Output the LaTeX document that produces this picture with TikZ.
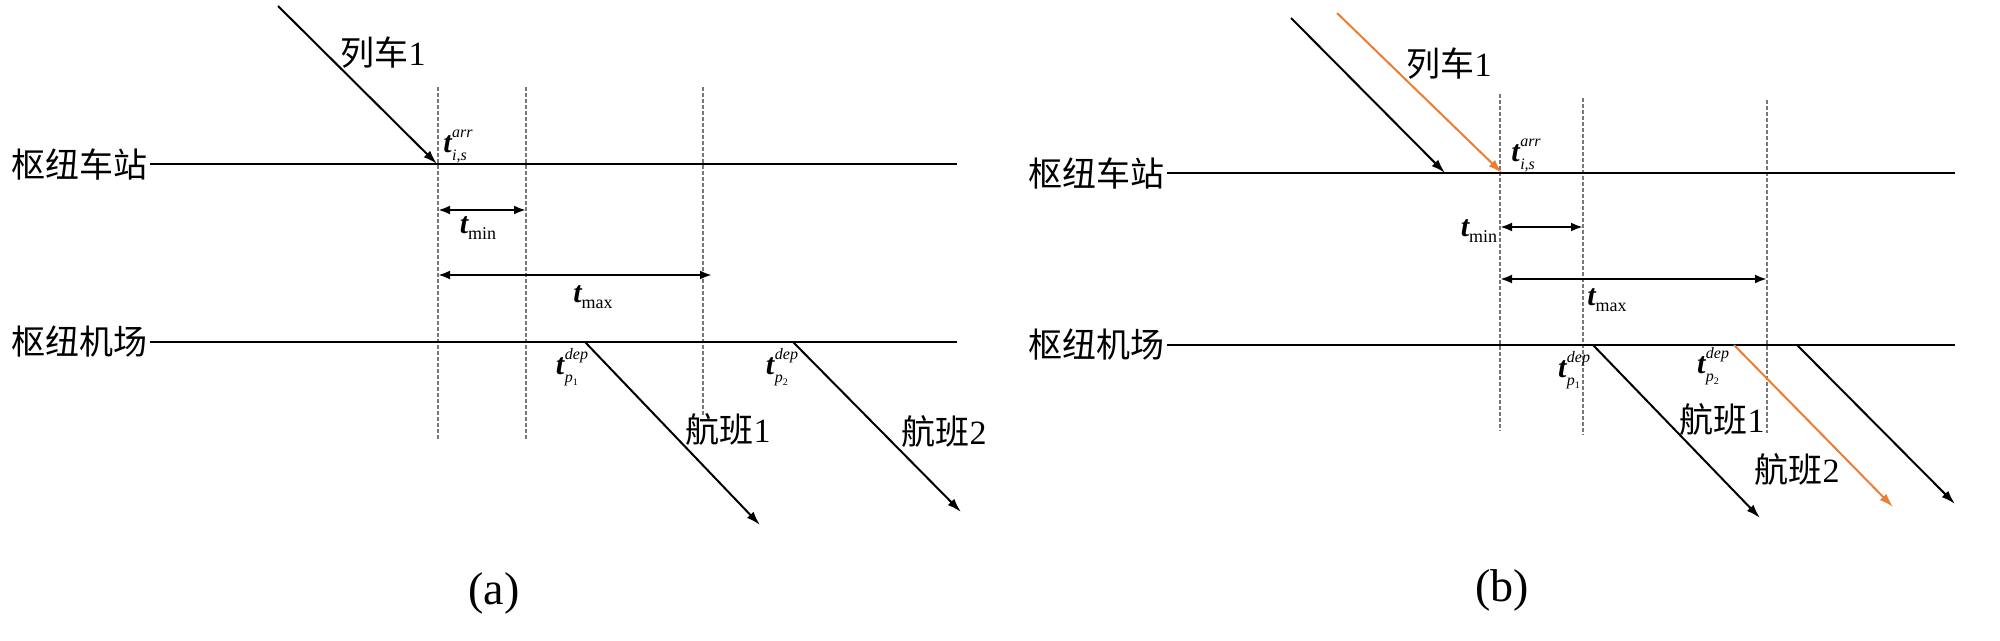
\documentclass[tikz,border=0pt]{standalone}
\usepackage{fontspec}
\setmainfont{Liberation Serif}
\newfontfamily\cjk{Noto Sans CJK SC}
\usetikzlibrary{arrows.meta}
\definecolor{myorange}{RGB}{237,125,49}
\definecolor{dashgray}{RGB}{120,120,120}
\newcommand\tbig{{\fontsize{15}{15}\selectfont\bfseries\itshape t}}
\newcommand\tlabel[2]{\tbig\kern0.3pt{\fontsize{8}{8}\selectfont\itshape\ooalign{\raisebox{7.5pt}{#1}\cr\raisebox{-4pt}{#2}\cr}}}
\newcommand\tsub[1]{\tbig{\fontsize{9}{9}\selectfont\raisebox{-3pt}{#1}}}
\newcommand\pidx[1]{p\raisebox{-1.5pt}{\fontsize{5}{5}\selectfont\upshape #1}}
\begin{document}
\begin{tikzpicture}[x=0.5pt,y=-0.5pt,
  track/.style={line width=1.4pt},
  run/.style={line width=1pt,-{Latex[length=7pt,width=4.5pt]}},
  runo/.style={run,myorange},
  guide/.style={dashgray,line width=0.8pt,dash pattern=on 2pt off 1pt},
  span/.style={line width=1.2pt,{Latex[length=6pt,width=4.5pt]}-{Latex[length=6pt,width=4.5pt]}},
  lab/.style={inner sep=0pt,font=\fontsize{17}{17}\selectfont},
  captext/.style={inner sep=0pt,font=\fontsize{23}{23}\selectfont},
  mlab/.style={inner sep=0pt}]
\useasboundingbox (0,0) rectangle (2000,641);

% ---------------- panel (a) ----------------
\coordinate (aS1) at (150,164); \coordinate (aS2) at (957,164);
\coordinate (aA1) at (150,342); \coordinate (aA2) at (957,342);
\coordinate (aG1t) at (438,87);  \coordinate (aG1b) at (438,440);
\coordinate (aG2t) at (526,87);  \coordinate (aG2b) at (526,440);
\coordinate (aG3t) at (703,87);  \coordinate (aG3b) at (703,415);
\draw[guide] (aG1t) -- (aG1b);
\draw[guide] (aG2t) -- (aG2b);
\draw[guide] (aG3t) -- (aG3b);
\draw[track] (aS1) -- (aS2);
\draw[track] (aA1) -- (aA2);
\node[lab,anchor=east] (aSlab) at (148,164) {\cjk 枢纽车站};
\node[lab,anchor=east] (aAlab) at (148,342) {\cjk 枢纽机场};
\coordinate (aT0) at (278,6); \coordinate (aT1) at (437,164);
\draw[run] (aT0) -- (aT1);
\node[lab] (aTlab) at (383,53) {{\cjk 列车}1};
\node[mlab] (aTarr) at (458,146) {\tlabel{arr}{i,s}};
\coordinate (aMin1) at (438,210); \coordinate (aMin2) at (526,210);
\draw[span] (aMin1) -- (aMin2);
\node[mlab] (aMinlab) at (478,228) {\tsub{min}};
\coordinate (aMax1) at (438,275); \coordinate (aMax2) at (712,275);
\draw[span] (aMax1) -- (aMax2);
\node[mlab] (aMaxlab) at (593,297) {\tsub{max}};
\coordinate (aF1a) at (585,342); \coordinate (aF1b) at (760,525);
\coordinate (aF2a) at (793,342); \coordinate (aF2b) at (961,512);
\draw[run] (aF1a) -- (aF1b);
\draw[run] (aF2a) -- (aF2b);
\node[mlab] (aP1) at (572,367) {\tlabel{dep}{\pidx{1}}};
\node[mlab] (aP2) at (782,367) {\tlabel{dep}{\pidx{2}}};
\node[lab] (aF1lab) at (728,430) {{\cjk 航班}1};
\node[lab] (aF2lab) at (944,432) {{\cjk 航班}2};
\node[captext] (acap) at (494,593) {(a)};

% ---------------- panel (b) ----------------
\coordinate (bS1) at (1167,173); \coordinate (bS2) at (1955,173);
\coordinate (bA1) at (1167,345); \coordinate (bA2) at (1955,345);
\coordinate (bG1t) at (1500,94);  \coordinate (bG1b) at (1500,431);
\coordinate (bG2t) at (1583,98);  \coordinate (bG2b) at (1583,435);
\coordinate (bG3t) at (1767,100); \coordinate (bG3b) at (1767,433);
\draw[guide] (bG1t) -- (bG1b);
\draw[guide] (bG2t) -- (bG2b);
\draw[guide] (bG3t) -- (bG3b);
\draw[track] (bS1) -- (bS2);
\draw[track] (bA1) -- (bA2);
\node[lab,anchor=east] (bSlab) at (1165,173) {\cjk 枢纽车站};
\node[lab,anchor=east] (bAlab) at (1165,345) {\cjk 枢纽机场};
\coordinate (bT0) at (1291,18); \coordinate (bT1) at (1445,173);
\coordinate (bO0) at (1337,13); \coordinate (bO1) at (1502,173);
\draw[run] (bT0) -- (bT1);
\draw[runo] (bO0) -- (bO1);
\node[lab] (bTlab) at (1449,64) {{\cjk 列车}1};
\node[mlab] (bTarr) at (1526,155) {\tlabel{arr}{i,s}};
\coordinate (bMin1) at (1500,227); \coordinate (bMin2) at (1583,227);
\draw[span] (bMin1) -- (bMin2);
\node[mlab] (bMinlab) at (1479,231) {\tsub{min}};
\coordinate (bMax1) at (1500,279); \coordinate (bMax2) at (1767,279);
\draw[span] (bMax1) -- (bMax2);
\node[mlab] (bMaxlab) at (1607,300) {\tsub{max}};
\coordinate (bF1a) at (1593,345); \coordinate (bF1b) at (1760,518);
\coordinate (bF2a) at (1734,345); \coordinate (bF2b) at (1893,507);
\coordinate (bF3a) at (1797,345); \coordinate (bF3b) at (1955,504);
\draw[run] (bF1a) -- (bF1b);
\draw[runo] (bF2a) -- (bF2b);
\draw[run] (bF3a) -- (bF3b);
\node[mlab] (bP1) at (1574,370) {\tlabel{dep}{\pidx{1}}};
\node[mlab] (bP2) at (1713,366) {\tlabel{dep}{\pidx{2}}};
\node[lab] (bF1lab) at (1722,420) {{\cjk 航班}1};
\node[lab] (bF2lab) at (1797,470) {{\cjk 航班}2};
\node[captext] (bcap) at (1502,590) {(b)};
\end{tikzpicture}
\end{document}
